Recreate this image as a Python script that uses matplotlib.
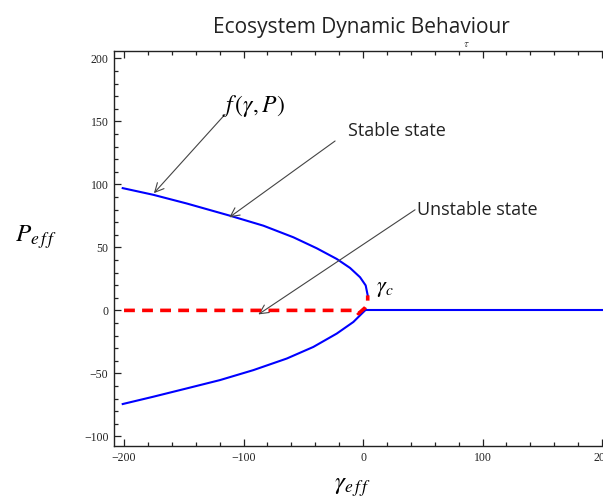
import matplotlib
matplotlib.use('Agg')
import matplotlib.pyplot as plt
from matplotlib.ticker import MultipleLocator

plt.rcParams['mathtext.fontset'] = 'stix'

# values
upper_gamma = [-201.1, -175.5, -147.5, -111.3, -83.4, -58.3, -38.8, -22.0,
               -10.9, -2.5, 2.2, 3.9]
upper_p = [97.0, 91.7, 84.8, 75.1, 67.2, 58.0, 49.3, 40.8, 33.7, 26.3, 19.8, 11.9]

lower_gamma = [-201.1, -175.5, -147.5, -119.7, -91.8, -63.8, -41.6, -22.0,
               -8.1, -1.1, 1.7]
lower_p = [-74.3, -68.5, -61.9, -55.3, -47.4, -38.2, -29.0, -18.4, -9.2, -2.6, 0.0]

zero_gamma = [1.7, 205]
zero_p = [0, 0]

unstable_gamma = [-200, -6, -3.9, 1.7, 3.9, 3.9]
unstable_p = [0, 0, -2.6, 2.1, 5.3, 11.9]

xticks = [-200, -100, 0, 100, 200]
yticks = [-100, -50, 0, 50, 100, 150, 200]

fig = plt.figure(figsize=(6.03, 5.0), dpi=100)
ax = fig.add_axes([114 / 603, 54 / 500, (606 - 114) / 603, 395 / 500])

ax.plot(upper_gamma, upper_p, color='blue', lw=1.5, zorder=3)
ax.plot(lower_gamma, lower_p, color='blue', lw=1.5, zorder=3)
ax.plot(zero_gamma, zero_p, color='blue', lw=1.5, zorder=3)
ax.plot(unstable_gamma, unstable_p, color='red', lw=2.6, ls=(0, (3, 2)), zorder=4)

ax.set_xlim(-208.4, 203.3)
ax.set_ylim(-107.6, 205.8)
ax.set_xticks(xticks)
ax.set_yticks(yticks)
ax.xaxis.set_minor_locator(MultipleLocator(20))
ax.yaxis.set_minor_locator(MultipleLocator(10))
ax.tick_params(which='both', direction='in', top=True, right=False,
               labelsize=8.5, width=0.9, color='#222222', pad=4)
ax.tick_params(which='major', length=5)
ax.tick_params(which='minor', length=3)
for lab in ax.get_xticklabels() + ax.get_yticklabels():
    lab.set_fontfamily('Liberation Serif')
    lab.set_color('#222222')
for s in ax.spines.values():
    s.set_linewidth(1.0)
    s.set_color('#222222')

ax.set_xlabel(r'$\gamma_{e\,f\,f}$', fontsize=18)
ax.xaxis.set_label_coords((352 - 114) / 492, -(487 - 446) / 395)
ax.xaxis.label.set_va('center')
ax.set_ylabel(r'$P_{e\,f\,f}$', fontsize=18, rotation=0, va='center', ha='center')
ax.yaxis.set_label_coords(-0.159, 0.529)

fig.text(361 / 603, 1 - 28 / 500, 'Ecosystem Dynamic Behaviour', ha='center',
         va='center', fontsize=15, family='Open Sans', color='#222222')
fig.text(466 / 603, 1 - 44 / 500, r'$\tau$', ha='center', va='center',
         fontsize=8, color='#444444')

arrow = dict(arrowstyle='->', color='#444444', lw=0.8, mutation_scale=16,
             shrinkA=0, shrinkB=0)
ax.annotate('', xy=(-175, 93), xytext=(-115.5, 155.5), arrowprops=arrow)
ax.text(-92, 162, r'$f\,(\gamma,P)$', fontsize=17, ha='center', va='center')

ax.annotate('', xy=(-111.9, 73.8), xytext=(-23.4, 134.4), arrowprops=arrow)
ax.text(-12.6, 142.3, 'Stable state', fontsize=13, family='Open Sans',
        ha='left', va='center', color='#222222')

ax.annotate('', xy=(-87.6, -3.2), xytext=(43.5, 79.8), arrowprops=arrow)
ax.text(45, 80, 'Unstable state', fontsize=13, family='Open Sans',
        ha='left', va='center', color='#222222')

ax.text(18.4, 16.6, r'$\gamma_c$', fontsize=16, ha='center', va='center')

fig.savefig('out.png', dpi=100)
